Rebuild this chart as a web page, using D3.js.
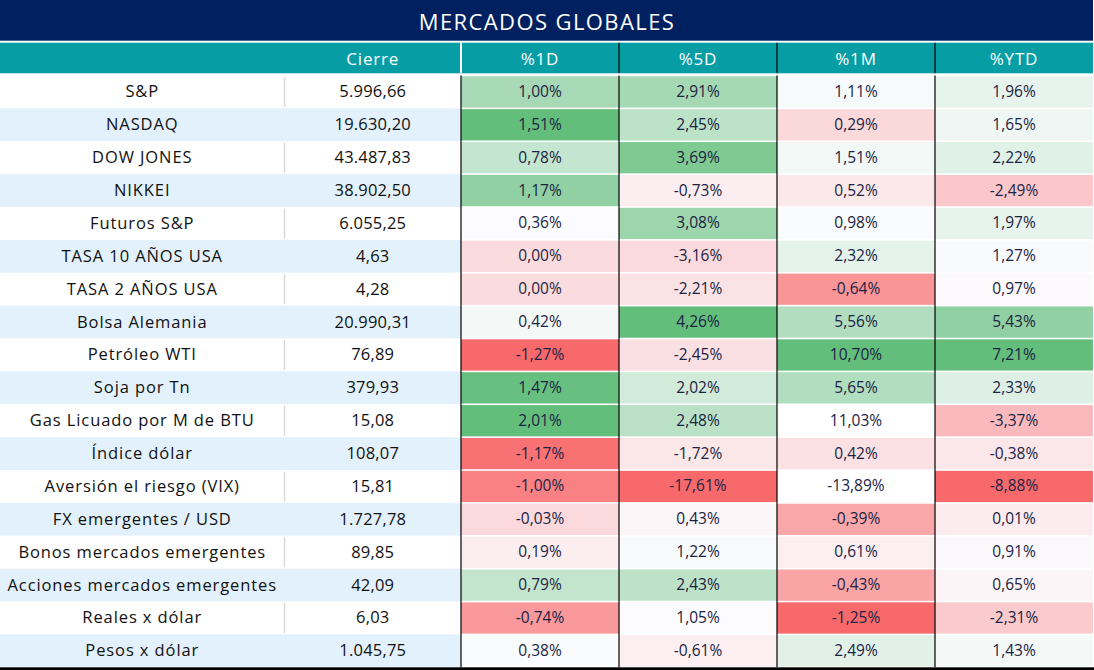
<!DOCTYPE html>
<html>
<head>
<meta charset="utf-8">
<script src="https://cdn.jsdelivr.net/npm/d3@7"></script>
<style>
  html, body { margin: 0; padding: 0; background: #ffffff; }
  svg { display: block; }
  text { font-family: "Open Sans", "Noto Sans", sans-serif; }
</style>
</head>
<body>
<svg id="chart" width="1094" height="670"></svg>
<script>
// ---------------- DATA ----------------
const titulo = "MERCADOS GLOBALES";
const encabezados = ["", "Cierre", "%1D", "%5D", "%1M", "%YTD"];
const categorias = [
  "S&P", "NASDAQ", "DOW JONES", "NIKKEI", "Futuros S&P", "TASA 10 AÑOS USA",
  "TASA 2 AÑOS USA", "Bolsa Alemania", "Petróleo WTI", "Soja por Tn",
  "Gas Licuado por M de BTU", "Índice dólar", "Aversión el riesgo (VIX)",
  "FX emergentes / USD", "Bonos mercados emergentes", "Acciones mercados emergentes",
  "Reales x dólar", "Pesos x dólar"
];
const cierre = [5996.66, 19630.20, 43487.83, 38902.50, 6055.25, 4.63, 4.28, 20990.31, 76.89,
  379.93, 15.08, 108.07, 15.81, 1727.78, 89.85, 42.09, 6.03, 1045.75];
const pct1D = [1.00, 1.51, 0.78, 1.17, 0.36, 0.00, 0.00, 0.42, -1.27, 1.47, 2.01, -1.17, -1.00,
  -0.03, 0.19, 0.79, -0.74, 0.38];
const pct5D = [2.91, 2.45, 3.69, -0.73, 3.08, -3.16, -2.21, 4.26, -2.45, 2.02, 2.48, -1.72, -17.61,
  0.43, 1.22, 2.43, 1.05, -0.61];
const pct1M = [1.11, 0.29, 1.51, 0.52, 0.98, 2.32, -0.64, 5.56, 10.70, 5.65, 11.03, 0.42, -13.89,
  -0.39, 0.61, -0.43, -1.25, 2.49];
const pctYTD = [1.96, 1.65, 2.22, -2.49, 1.97, 1.27, 0.97, 5.43, 7.21, 2.33, -3.37, -0.38, -8.88,
  0.01, 0.91, 0.65, -2.31, 1.43];
// color-scale stops (min / midpoint / max) read from the conditional formatting
const escala1D = [-1.27, 0.36, 1.51];
const escala5D = [-17.61, 1.135, 4.26];
const escala1M = [-1.25, 0.795, 10.70];
const escalaYTD = [-8.88, 1.12, 7.21];
// cells left without conditional formatting
const sinEscala = [["Gas Licuado por M de BTU", "%1M"], ["Aversión el riesgo (VIX)", "%1M"]];

// ---------------- CHART ----------------
const W = 1094, H = 670;
const svg = d3.select("#chart");

const loc = d3.formatLocale({ decimal: ",", thousands: ".", grouping: [3], currency: ["", ""], minus: "-" });
const fmtNum = loc.format(",.2f");
const fmtPct = v => loc.format(".2f")(v) + "%";

const colsPct = encabezados.slice(2);
const seriesPct = { "%1D": pct1D, "%5D": pct5D, "%1M": pct1M, "%YTD": pctYTD };
const escalas = { "%1D": escala1D, "%5D": escala5D, "%1M": escala1M, "%YTD": escalaYTD };
const colorScales = {};
colsPct.forEach(c => {
  colorScales[c] = d3.scaleLinear()
    .domain(escalas[c])
    .range(["#F8696B", "#FCFCFF", "#63BE7B"])
    .interpolate(d3.interpolateRgb)
    .clamp(true);
});
const excluded = new Set(sinEscala.map(d => d[0] + "|" + d[1]));

const navy = "#002060", teal = "#069EA4", lightBlue = "#E3F1FC";
const titleBottom = 40.7, headTop = 42.7, headBottom = 73.3;
const bodyTop = 75.5, bodyBottom = 667.3;
const xLabelEnd = 284.5, xPctStart = 461, xRight = 1093;

const y = d3.scaleBand().domain(categorias).range([bodyTop, bodyBottom]).paddingInner(0);
const xPct = d3.scaleBand().domain(colsPct).range([xPctStart, xRight]);
const bw = y.bandwidth();

// title
svg.append("rect").attr("x", 0).attr("y", 0).attr("width", xRight).attr("height", titleBottom).attr("fill", navy);
svg.append("text").attr("x", W / 2).attr("y", titleBottom / 2 + 0.5)
  .attr("text-anchor", "middle").attr("dominant-baseline", "central")
  .attr("fill", "#ffffff").attr("font-size", 22).attr("letter-spacing", 1.4).text(titulo);

// header
svg.append("rect").attr("x", 0).attr("y", headTop).attr("width", xRight).attr("height", headBottom - headTop).attr("fill", teal);
const headG = svg.append("g");
headG.append("text").attr("x", (xLabelEnd + xPctStart) / 2).attr("y", (headTop + headBottom) / 2)
  .attr("text-anchor", "middle").attr("dominant-baseline", "central")
  .attr("fill", "#fff").attr("font-size", 17).attr("letter-spacing", 0.8).text(encabezados[1]);
colsPct.forEach(c => {
  headG.append("text").attr("x", xPct(c) + xPct.bandwidth() / 2).attr("y", (headTop + headBottom) / 2)
    .attr("text-anchor", "middle").attr("dominant-baseline", "central")
    .attr("fill", "#fff").attr("font-size", 17).attr("letter-spacing", 0.8).text(c);
});
headG.append("line").attr("x1", xPctStart).attr("x2", xPctStart).attr("y1", headTop).attr("y2", headBottom)
  .attr("stroke", "#fff").attr("stroke-width", 2);
colsPct.slice(1).forEach(c => {
  headG.append("line").attr("x1", xPct(c)).attr("x2", xPct(c)).attr("y1", headTop).attr("y2", headBottom)
    .attr("stroke", "#000").attr("stroke-width", 1.2);
});

// body rows
const rows = svg.append("g").selectAll("g").data(categorias).join("g")
  .attr("transform", d => `translate(0,${y(d)})`);

rows.append("rect").attr("x", 0).attr("y", 0).attr("width", xPctStart).attr("height", bw)
  .attr("fill", (d, i) => i % 2 === 1 ? lightBlue : "#ffffff");
rows.filter((d, i) => i % 2 === 0).append("line")
  .attr("x1", xLabelEnd).attr("x2", xLabelEnd).attr("y1", 1.5).attr("y2", bw - 1.5)
  .attr("stroke", "#D9D9D9").attr("stroke-width", 1.5);

rows.append("text").attr("x", xLabelEnd / 2).attr("y", bw / 2 - 1)
  .attr("text-anchor", "middle").attr("dominant-baseline", "central")
  .attr("fill", "#111").attr("font-size", 16.5).attr("letter-spacing", 0.9)
  .text(d => d);
rows.append("text").attr("x", (xLabelEnd + xPctStart) / 2).attr("y", bw / 2 - 1)
  .attr("text-anchor", "middle").attr("dominant-baseline", "central")
  .attr("fill", "#111").attr("font-size", 16.5).attr("letter-spacing", 0.2)
  .text((d, i) => fmtNum(cierre[i]));

colsPct.forEach(c => {
  rows.append("rect")
    .attr("x", xPct(c)).attr("y", 0.8).attr("width", xPct.bandwidth()).attr("height", bw - 1.6)
    .attr("fill", (d, i) => excluded.has(d + "|" + c) ? "#ffffff" : colorScales[c](seriesPct[c][i]));
  rows.append("text")
    .attr("x", xPct(c) + xPct.bandwidth() / 2).attr("y", bw / 2 - 1)
    .attr("text-anchor", "middle").attr("dominant-baseline", "central")
    .attr("fill", "#1B2344").attr("font-size", 15.5)
    .text((d, i) => fmtPct(seriesPct[c][i]));
});

// vertical black separators in the % area
const sep = svg.append("g");
colsPct.forEach(c => {
  sep.append("line").attr("x1", xPct(c)).attr("x2", xPct(c)).attr("y1", bodyTop).attr("y2", bodyBottom)
    .attr("stroke", "#000").attr("stroke-width", 1.2);
});

// bottom border
svg.append("rect").attr("x", 0).attr("y", bodyBottom).attr("width", W).attr("height", H - bodyBottom).attr("fill", "#000");
</script>
</body>
</html>
